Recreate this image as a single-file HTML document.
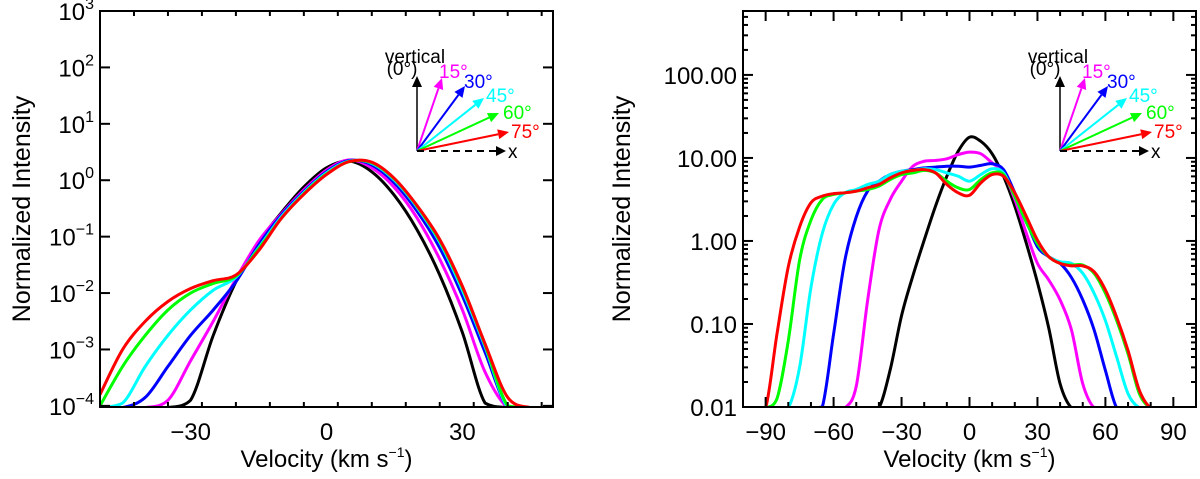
<!DOCTYPE html>
<html><head><meta charset="utf-8">
<style>
html,body{margin:0;padding:0;background:#fff;}
svg{display:block;font-family:"Liberation Sans",Arial,sans-serif;}
</style></head>
<body>
<svg id="chart" width="1200" height="479" viewBox="0 0 1200 479" xmlns="http://www.w3.org/2000/svg">
<defs>
<clipPath id="clipL"><rect x="100" y="11" width="453" height="396"/></clipPath>
<clipPath id="clipR"><rect x="743" y="11" width="453" height="396"/></clipPath>
</defs>
</svg>
<script>
// ---- data (log10 of normalized intensity) ----
const leftVelocities = [-50,-45,-40,-35,-30,-25,-20,-15,-10,-5,0,5,10,15,20,25,30,35,40,45,50];
const leftBlack   = [-6,-6,-6,-5.5,-3.9,-2.75,-1.8,-1.1,-0.58,-0.12,0.22,0.34,0.15,-0.27,-0.88,-1.68,-2.7,-3.95,-5.5,-6,-6];
const leftMagenta = [-6,-6,-5,-3.9,-3.2,-2.5,-1.75,-1.08,-0.6,-0.17,0.18,0.36,0.22,-0.13,-0.67,-1.4,-2.3,-3.4,-5,-6,-6];
const leftBlue    = [-6,-5,-3.85,-3.3,-2.75,-2.3,-1.8,-1.15,-0.62,-0.2,0.15,0.35,0.27,-0.05,-0.55,-1.2,-2.05,-3.05,-4.5,-6,-6];
const leftCyan    = [-4.6,-3.95,-3.3,-2.75,-2.3,-1.95,-1.72,-1.2,-0.65,-0.22,0.13,0.34,0.3,0.0,-0.48,-1.1,-1.95,-2.95,-4.1,-6,-6];
const leftGreen   = [-4.0,-3.3,-2.75,-2.3,-2.0,-1.83,-1.7,-1.22,-0.68,-0.24,0.11,0.33,0.31,0.02,-0.46,-1.07,-1.9,-2.92,-4.0,-6,-6];
const leftRed     = [-3.8,-3.0,-2.5,-2.15,-1.92,-1.78,-1.68,-1.25,-0.68,-0.25,0.1,0.33,0.32,0.03,-0.45,-1.05,-1.88,-2.9,-3.85,-6,-6];
const leftXTicks = [-30,0,30];
const leftYTicks = [-4,-3,-2,-1,0,1,2,3];

const rightVelocities = [-100,-95,-90,-85,-80,-75,-70,-65,-60,-55,-50,-45,-40,-35,-30,-25,-20,-15,-10,-5,0,5,10,15,20,25,30,35,40,45,50,55,60,65,70,75,80,85,90,95,100];
const rightBlack   = [-3,-3,-3,-3,-3,-3,-3,-3,-3,-3,-3,-3,-2.7,-1.55,-0.9,-0.42,0.01,0.42,0.78,1.08,1.25,1.2,1.05,0.78,0.42,-0.02,-0.5,-1.05,-1.72,-3,-3,-3,-3,-3,-3,-3,-3,-3,-3,-3,-3];
const rightMagenta = [-3,-3,-3,-3,-3,-3,-3,-3,-3,-3,-1.75,-0.72,0.13,0.5,0.72,0.9,0.96,0.97,0.99,1.04,1.07,1.05,0.94,0.82,0.5,0.1,-0.27,-0.47,-0.71,-1.07,-1.72,-3,-3,-3,-3,-3,-3,-3,-3,-3,-3];
const rightBlue    = [-3,-3,-3,-3,-3,-3,-3,-2.0,-1.12,-0.23,0.29,0.6,0.72,0.8,0.84,0.86,0.88,0.89,0.9,0.9,0.89,0.91,0.93,0.86,0.58,0.25,-0.07,-0.19,-0.27,-0.44,-0.71,-1.07,-1.56,-2.5,-3,-3,-3,-3,-3,-3,-3];
const rightCyan    = [-3,-3,-3,-3,-3,-1.52,-0.56,0.09,0.44,0.58,0.62,0.68,0.72,0.8,0.84,0.85,0.87,0.86,0.82,0.78,0.72,0.8,0.87,0.82,0.54,0.23,-0.03,-0.19,-0.25,-0.27,-0.39,-0.63,-0.96,-1.4,-1.84,-3,-3,-3,-3,-3,-3];
const rightGreen   = [-3,-3,-3,-1.9,-1.2,-0.23,0.25,0.5,0.56,0.58,0.6,0.62,0.66,0.74,0.8,0.82,0.85,0.82,0.72,0.64,0.62,0.74,0.82,0.8,0.54,0.23,-0.03,-0.19,-0.27,-0.29,-0.29,-0.39,-0.63,-0.96,-1.36,-1.84,-3,-3,-3,-3,-3];
const rightRed     = [-3,-3,-2.6,-1.12,-0.31,0.17,0.46,0.54,0.57,0.58,0.6,0.64,0.68,0.76,0.82,0.85,0.86,0.82,0.68,0.58,0.55,0.7,0.8,0.78,0.58,0.3,0.01,-0.19,-0.27,-0.3,-0.3,-0.37,-0.59,-0.92,-1.32,-1.8,-2.6,-3,-3,-3,-3];
const rightXTicks = [-90,-60,-30,0,30,60,90];
const rightYTicks = [-2,-1,0,1,2];
const rightYLabels = ["0.01","0.10","1.00","10.00","100.00"];
const seriesColors = ["#000000","#ff00ff","#0000ff","#00ffff","#00ff00","#ff0000"];
const seriesNames = ["vertical-0","angle-15","angle-30","angle-45","angle-60","angle-75"];

const NS="http://www.w3.org/2000/svg";
const svg=document.getElementById('chart');
function mk(tag,attrs,parent){const e=document.createElementNS(NS,tag);for(const k in attrs)e.setAttribute(k,attrs[k]);(parent||svg).appendChild(e);return e;}

function makePanel(p){
  const g=mk('g',{});
  
  
  const sx=v=>p.x0+(v-p.xmin)/(p.xmax-p.xmin)*(p.x1-p.x0);
  const sy=l=>p.y1-(l-p.lmin)/(p.lmax-p.lmin)*(p.y1-p.y0);
  const cg=mk('g',{'clip-path':`url(#${p.clip})`},g);
  p.series.forEach((s,si)=>{
    const pts=p.vel.map((v,i)=>[sx(v),sy(Math.max(s[i],p.lmin-0.01))]);
    let d=`M${pts[0][0]},${pts[0][1]}`;
    for(let i=0;i<pts.length-1;i++){
      const p0=pts[Math.max(0,i-1)],p1=pts[i],p2=pts[i+1],p3=pts[Math.min(pts.length-1,i+2)];
      let c1y=p1[1]+(p2[1]-p0[1])/6, c2y=p2[1]-(p3[1]-p1[1])/6;
      const floor=sy(p.lmin-0.01);
      c1y=Math.min(c1y,floor);c2y=Math.min(c2y,floor);
      d+=` C${p1[0]+(p2[0]-p0[0])/6},${c1y} ${p2[0]-(p3[0]-p1[0])/6},${c2y} ${p2[0]},${p2[1]}`;
    }
    const path=mk('path',{d:d,fill:'none',stroke:seriesColors[si],'stroke-width':3,'stroke-linejoin':'round'},cg);
    
    
  });
  const fr=mk('rect',{x:p.x0,y:p.y0,width:p.x1-p.x0,height:p.y1-p.y0,fill:'none',stroke:'#000','stroke-width':2},g);
  
  
  for(let v=p.xmin;v<=p.xmax+1e-6;v+=p.xminor){
    const X=sx(v);const major=p.xticks.some(t=>Math.abs(t-v)<1e-6);const L=major?10:5;
    mk('line',{x1:X,x2:X,y1:p.y1,y2:p.y1-L,stroke:'#000','stroke-width':2},g);
    mk('line',{x1:X,x2:X,y1:p.y0,y2:p.y0+L,stroke:'#000','stroke-width':2},g);
  }
  p.xticks.forEach(v=>{
    const t=mk('text',{x:sx(v),y:p.y1+33,'font-size':24,'text-anchor':'middle'},g);
    t.textContent=(v<0?'\u2212'+(-v):String(v));
    
    
  });
  p.yticks.forEach((l,i)=>{
    const Y=sy(l);
    mk('line',{x1:p.x0,x2:p.x0+10,y1:Y,y2:Y,stroke:'#000','stroke-width':2},g);
    mk('line',{x1:p.x1,x2:p.x1-10,y1:Y,y2:Y,stroke:'#000','stroke-width':2},g);
    if(p.yminor){for(let m=2;m<=9;m++){const lm=l+Math.log10(m);if(lm>p.lmax)break;const Ym=sy(lm);
      mk('line',{x1:p.x0,x2:p.x0+5,y1:Ym,y2:Ym,stroke:'#000','stroke-width':2},g);
      mk('line',{x1:p.x1,x2:p.x1-5,y1:Ym,y2:Ym,stroke:'#000','stroke-width':2},g);}}
    const t=mk('text',{x:p.x0-6,y:Y+9,'font-size':24,'text-anchor':'end'},g);
    if(p.ylabels){t.textContent=p.ylabels[i];}
    else{t.textContent='10';const s=mk('tspan',{dy:-11,'font-size':16},t);s.textContent=(l<0?'\u2212'+(-l):String(l));}
    
    
  });
  const xt=mk('text',{x:(p.x0+p.x1)/2,y:p.y1+60,'font-size':24,'text-anchor':'middle'},g);
  xt.textContent='Velocity (km s';const sp=mk('tspan',{dy:-10,'font-size':14},xt);sp.textContent='\u22121';
  const sp2=mk('tspan',{dy:10},xt);sp2.textContent=')';
  
  
  const yt=mk('text',{x:0,y:0,'font-size':25,'text-anchor':'middle',transform:`translate(${p.ytx},${(p.y0+p.y1)/2}) rotate(-90)`},g);
  yt.textContent='Normalized Intensity';
  
  
  const lg=mk('g',{transform:`translate(${p.lx},${p.ly})`},g);
  
  
  const tips=[[0,-75],[25,-73],[48,-65],[67,-53],[82,-38],[92,-19]];
  tips.forEach((tp,i)=>{
    const ang=Math.atan2(tp[1],tp[0]);const len=Math.hypot(tp[0],tp[1]);
    const bx=Math.cos(ang)*(len-11),by=Math.sin(ang)*(len-11);
    mk('line',{x1:0,y1:0,x2:bx,y2:by,stroke:seriesColors[i],'stroke-width':i==0?1.5:2},lg);
    const px=-Math.sin(ang)*5,py=Math.cos(ang)*5;
    mk('polygon',{points:`${tp[0]},${tp[1]} ${bx+px},${by+py} ${bx-px},${by-py}`,fill:seriesColors[i]},lg);
  });
  mk('line',{x1:0,y1:0,x2:80,y2:0,stroke:'#000','stroke-width':2,'stroke-dasharray':'7,5'},lg);
  mk('polygon',{points:'89,0 79,-5 79,5',fill:'#000'},lg);
  const labs=[['vertical',-2,-88,'#000','middle'],['(0°)',-15,-76,'#000','middle'],['15°',22,-73,'#ff00ff','start'],['30°',47,-63,'#0000ff','start'],['45°',69,-49,'#00ffff','start'],['60°',86,-32,'#00ff00','start'],['75°',94,-13,'#ff0000','start'],['x',91,7,'#000','start']];
  labs.forEach(a=>{const t=mk('text',{x:a[1],y:a[2],'font-size':19,fill:a[3],'text-anchor':a[4]},lg);t.textContent=a[0];});
}

makePanel({name:'left-panel',x0:100,x1:553,y0:11,y1:407,xmin:-50,xmax:50,lmin:-4.02,lmax:3,clip:'clipL',
  vel:leftVelocities,series:[leftBlack,leftMagenta,leftBlue,leftCyan,leftGreen,leftRed],
  xticks:leftXTicks,xminor:7.5,yticks:leftYTicks,yminor:false,ytx:30,lx:417,ly:151});
makePanel({name:'right-panel',x0:743,x1:1196,y0:11,y1:407,xmin:-100,xmax:100,lmin:-2,lmax:2.77,clip:'clipR',
  vel:rightVelocities,series:[rightBlack,rightMagenta,rightBlue,rightCyan,rightGreen,rightRed],
  xticks:rightXTicks,xminor:10,yticks:rightYTicks,ylabels:rightYLabels,yminor:true,ytx:630,lx:1060,ly:151});
</script>
</body></html>
